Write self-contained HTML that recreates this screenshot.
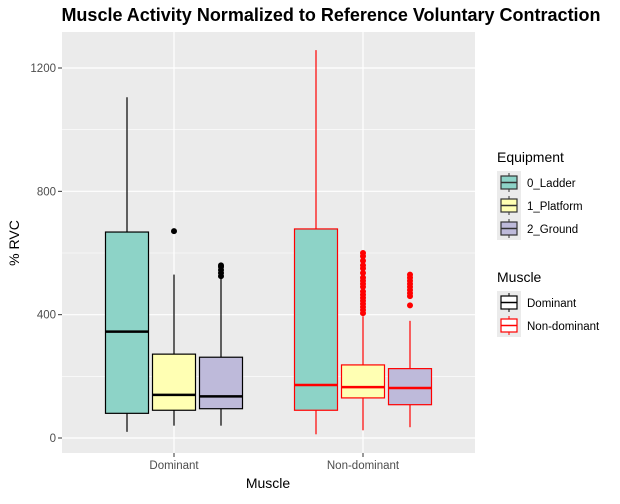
<!DOCTYPE html>
<html><head><meta charset="utf-8"><style>
body{margin:0;background:#fff;font-family:"Liberation Sans",sans-serif;}
svg text{font-family:"Liberation Sans",sans-serif;}
</style></head><body>
<svg id="chart" width="620" height="499" xmlns="http://www.w3.org/2000/svg">
<rect width="620" height="499" fill="#fff"/>
<text x="331" y="21" text-anchor="middle" font-size="18" font-weight="bold" fill="#000">Muscle Activity Normalized to Reference Voluntary Contraction</text>
<rect x="62" y="32" width="413" height="421" fill="#ebebeb"/>
<g id="grid"></g>
<g id="marks"></g>
<g id="axes"></g>
<text x="268" y="488" text-anchor="middle" font-size="14" fill="#000">Muscle</text>
<text x="19" y="243" text-anchor="middle" font-size="14" fill="#000" transform="rotate(-90 19 243)">% RVC</text>
<g>
<text x="497" y="162" font-size="14" fill="#000">Equipment</text>
<g id="legEq"></g>
</g>
<g>
<text x="497" y="282" font-size="14" fill="#000">Muscle</text>
<g id="legMu"></g>
</g>
</svg>
<script>
const muscles = ["Dominant", "Non-dominant"];
const equipment = ["0_Ladder", "1_Platform", "2_Ground"];
const yTicks = [0, 400, 800, 1200];
// [lowWhisker, q1, median, q3, highWhisker] per muscle x equipment
const domStats = [[20, 80, 345, 668, 1105], [40, 90, 140, 272, 530], [40, 95, 135, 262, 520]];
const nonStats = [[12, 90, 172, 678, 1258], [25, 130, 165, 237, 395], [35, 108, 162, 225, 380]];
const domOutliers = [[], [671], [525, 535, 545, 555, 560]];
const nonOutliers = [[], [405, 415, 425, 435, 445, 455, 465, 475, 490, 500, 510, 520, 535, 550, 560, 575, 590, 600], [430, 460, 470, 480, 490, 500, 510, 520, 530]];

const fills = ["#8dd3c7", "#ffffb3", "#bebada"];
const strokes = ["#000000", "#ff0000"];
const NS = "http://www.w3.org/2000/svg";
function yS(v){ return 438 - v * 0.30833; }
function xCenter(i){ return 174 + i * 189; }
function mk(tag, attrs, parent){ const e = document.createElementNS(NS, tag); for (const k in attrs) e.setAttribute(k, attrs[k]); parent.appendChild(e); return e; }
const grid = document.getElementById("grid"), marks = document.getElementById("marks"), axes = document.getElementById("axes");
yTicks.forEach((t, i) => {
  const mid = t + 200;
  if (yS(mid) > 32) { const m = mk("line", {x1:62, x2:475, y1:yS(mid), y2:yS(mid), stroke:"#fff", "stroke-width":0.6}, grid);
    
     }
  const g = mk("line", {x1:62, x2:475, y1:yS(t), y2:yS(t), stroke:"#fff", "stroke-width":1.2}, grid);
  
  
  const tk = mk("line", {x1:58, x2:62, y1:yS(t), y2:yS(t), stroke:"#333"}, axes);
  
  
  const tx = mk("text", {x:56, y:yS(t) + 4, "text-anchor":"end", "font-size":11.5, fill:"#4d4d4d"}, axes);
  tx.textContent = t;
  
  
});
{
  const m = mk("line", {x1:62, x2:475, y1:yS(-100), y2:yS(-100), stroke:"#fff", "stroke-width":0.6}, grid);
  
  
}
muscles.forEach((m, i) => {
  const g = mk("line", {x1:xCenter(i), x2:xCenter(i), y1:32, y2:453, stroke:"#fff", "stroke-width":1.2}, grid);
  
  
  const tk = mk("line", {x1:xCenter(i), x2:xCenter(i), y1:453, y2:457, stroke:"#333"}, axes);
  
  
  const tx = mk("text", {x:xCenter(i), y:469, "text-anchor":"middle", "font-size":11.5, fill:"#4d4d4d"}, axes);
  tx.textContent = m;
  
  
});
const allStats = [domStats, nonStats], allOut = [domOutliers, nonOutliers];
const bw = 43;
muscles.forEach((m, i) => {
  equipment.forEach((eq, j) => {
    const s = allStats[i][j], c = strokes[i];
    const cx = xCenter(i) + (j - 1) * 47;
    const g = mk("g", {}, marks);
    
    
    mk("line", {x1:cx, x2:cx, y1:yS(s[0]), y2:yS(s[1]), stroke:c, "stroke-width":1.2}, g);
    mk("line", {x1:cx, x2:cx, y1:yS(s[3]), y2:yS(s[4]), stroke:c, "stroke-width":1.2}, g);
    mk("rect", {x:cx - bw/2, y:yS(s[3]), width:bw, height:yS(s[1]) - yS(s[3]), fill:fills[j], stroke:c, "stroke-width":1.2}, g);
    mk("line", {x1:cx - bw/2, x2:cx + bw/2, y1:yS(s[2]), y2:yS(s[2]), stroke:c, "stroke-width":2.5}, g);
    allOut[i][j].forEach(v => {
      const p = mk("circle", {cx:cx, cy:yS(v), r:3, fill:c}, g);
      
      
    });
  });
});
function legKey(parent, y, fill, stroke){
  mk("rect", {x:497, y:y, width:24, height:23, fill:"#ebebeb"}, parent);
  mk("line", {x1:509, x2:509, y1:y + 2, y2:y + 21, stroke:stroke}, parent);
  mk("rect", {x:501, y:y + 5, width:16, height:13, fill:fill, stroke:stroke, "stroke-width":1.2}, parent);
  mk("line", {x1:501, x2:517, y1:y + 11.5, y2:y + 11.5, stroke:stroke, "stroke-width":1.5}, parent);
}
const legEq = document.getElementById("legEq"), legMu = document.getElementById("legMu");
equipment.forEach((eq, j) => {
  const g = mk("g", {}, legEq);
  
  
  const y = 171 + j * 23;
  legKey(g, y, fills[j], "#333");
  const t = mk("text", {x:527, y:y + 16, "font-size":11.5, fill:"#000"}, g);
  t.textContent = eq;
});
muscles.forEach((m, i) => {
  const g = mk("g", {}, legMu);
  
  
  const y = 291 + i * 23;
  legKey(g, y, "#fff", strokes[i]);
  const t = mk("text", {x:527, y:y + 16, "font-size":11.5, fill:"#000"}, g);
  t.textContent = m;
});
</script>
</body></html>
